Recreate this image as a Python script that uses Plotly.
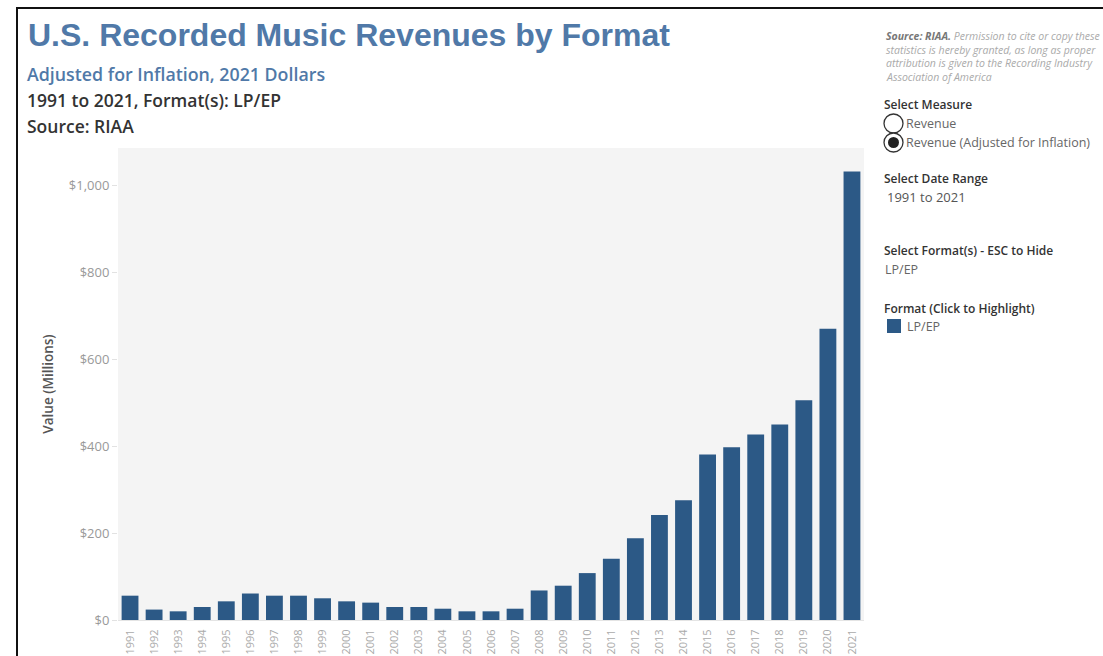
import plotly.graph_objects as go

# LP/EP revenue, inflation adjusted (2021 dollars, millions)
years = [str(y) for y in range(1991, 2022)]
revenue = [56, 24, 20, 30, 43, 61, 56, 56, 50, 43, 40, 30, 30, 26, 20,
           20, 26, 68, 79, 108, 141, 188, 242, 276, 381, 398, 427, 450, 506, 671, 1033]
y_ticks = [0, 200, 400, 600, 800, 1000]
y_tick_text = ["$0", "$200", "$400", "$600", "$800", "$1,000"]

W, H = 1103, 656
L, R, T, B = 118, 864, 148, 620
BAR = "#2c5986"
BLUE = "#5079a8"
FONT = "Open Sans"


def fx(p):
    return (p - L) / (R - L)


def fy(p):
    return (B - p) / (B - T)


fig = go.Figure(go.Bar(
    x=years, y=revenue, marker=dict(color=BAR, line=dict(width=0)),
    width=0.7, hoverinfo="x+y",
))

ann = []


def text(x, y, s, size, color, weight="normal", style="normal", family=FONT):
    ann.append(dict(x=fx(x), y=fy(y), xref="paper", yref="paper", text=s,
                    showarrow=False, xanchor="left", yanchor="middle",
                    font=dict(size=size, color=color, family=family,
                              weight=weight, style=style)))


text(26, 35, "U.S. Recorded Music Revenues by Format", 32, BLUE, "bold",
     family="Liberation Sans")
text(25, 74, "Adjusted for Inflation, 2021 Dollars", 17.8, BLUE, 600)
text(25, 100, "1991 to 2021, Format(s): LP/EP", 17.5, "#333333", 600)
text(25, 126, "Source: RIAA", 17.5, "#333333", 600)

# Right-hand control panel
note = [
    "<b>Source: RIAA.</b> <span style='color:#aaaaaa'>Permission to cite or copy these</span>",
    "<span style='color:#aaaaaa'>statistics is hereby granted, as long as proper</span>",
    "<span style='color:#aaaaaa'>attribution is given to the Recording Industry</span>",
    "<span style='color:#aaaaaa'>Association of America</span>",
]
for i, line in enumerate(note):
    text(884, 36 + i * 13.5, line, 10.5, "#777777", style="italic")

text(882, 105, "Select Measure", 12, "#333333", 600)
text(904, 123, "Revenue", 12.5, "#666666")
text(904, 142, "Revenue (Adjusted for Inflation)", 12.5, "#666666")
text(882, 178, "Select Date Range", 12, "#333333", 600)
text(885, 197, "1991 to 2021", 13, "#555555")
text(882, 250, "Select Format(s) - ESC to Hide", 12, "#333333", 600)
text(883, 269, "LP/EP", 12.5, "#666666")
text(882, 308, "Format (Click to Highlight)", 12, "#333333", 600)
text(905, 326, "LP/EP", 12.5, "#666666")

shapes = [
    # dashboard frame
    dict(type="rect", xref="paper", yref="paper", x0=fx(17), x1=fx(1120),
         y0=fy(8), y1=fy(700), line=dict(color="#111111", width=2),
         fillcolor="rgba(0,0,0,0)", layer="below"),
    # radio buttons
    dict(type="circle", xref="paper", yref="paper", x0=fx(884), x1=fx(903),
         y0=fy(114), y1=fy(133), line=dict(color="#333333", width=1.3),
         fillcolor="white"),
    dict(type="circle", xref="paper", yref="paper", x0=fx(884), x1=fx(903),
         y0=fy(133), y1=fy(152), line=dict(color="#333333", width=1.3),
         fillcolor="white"),
    dict(type="circle", xref="paper", yref="paper", x0=fx(888), x1=fx(899),
         y0=fy(137), y1=fy(148), line=dict(width=0), fillcolor="#222222"),
    # legend swatch
    dict(type="rect", xref="paper", yref="paper", x0=fx(887), x1=fx(901),
         y0=fy(319), y1=fy(333), line=dict(width=0), fillcolor=BAR),
]

fig.update_layout(
    width=W, height=H,
    margin=dict(l=L, r=W - R, t=T, b=H - B, pad=0, autoexpand=False),
    paper_bgcolor="white", plot_bgcolor="#f4f4f4",
    showlegend=False, bargap=0.3,
    annotations=ann, shapes=shapes,
    font=dict(family=FONT),
    xaxis=dict(type="category", tickangle=-90, showgrid=False,
               tickfont=dict(size=11, color="#aaaaaa", family=FONT),
               showline=True, linecolor="#e4e4e4", linewidth=1,
               ticks="", ticklabelstandoff=4, range=[-0.5, 30.5],
               automargin=False),
    yaxis=dict(range=[0, 1087], tickvals=y_ticks, ticktext=y_tick_text,
               showgrid=False, zeroline=False, automargin=False,
               ticks="outside", ticklen=5, tickcolor="#e2e2e2",
               tickfont=dict(size=13, color="#999999", family=FONT),
               title=dict(text="Value (Millions)", standoff=12,
                          font=dict(size=13.5, color="#555555", family=FONT,
                                    weight=600))),
)

fig.write_html("out.html")
